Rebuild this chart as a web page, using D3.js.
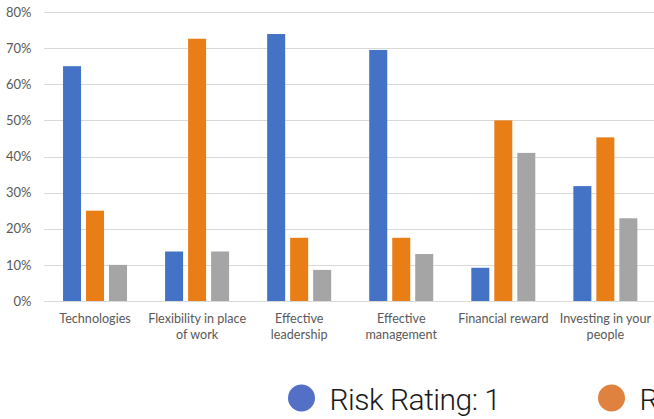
<!DOCTYPE html>
<html>
<head>
<meta charset="utf-8">
<script src="https://cdn.jsdelivr.net/npm/d3@7"></script>
<style>
  html, body { margin: 0; padding: 0; background: #fff; }
  svg { display: block; }
</style>
</head>
<body>
<svg id="chart" width="654" height="419"></svg>
<script>
const categories = ["Technologies", "Flexibility in place of work", "Effective leadership", "Effective management", "Financial reward", "Investing in your people"];
const tickLabels = [["Technologies"], ["Flexibility in place", "of work"], ["Effective", "leadership"], ["Effective", "management"], ["Financial reward"], ["Investing in your", "people"]];
const seriesNames = ["Risk Rating: 1", "Risk Rating: 2", "Risk Rating: 3"];
const rating1 = [65, 13.7, 73.9, 69.5, 9.2, 31.8];
const rating2 = [25, 72.6, 17.5, 17.5, 50, 45.3];
const rating3 = [10, 13.7, 8.6, 13, 41, 22.9];
const yTicks = [0, 10, 20, 30, 40, 50, 60, 70, 80];
const barColors = ["#4472C4", "#E97E17", "#A5A5A5"];
const legendColors = ["#5470C6", "#E0823F", "#A5A5A5"];

const seriesValues = [rating1, rating2, rating3];
const svg = d3.select("#chart");

const x = d3.scaleBand().domain(categories).range([44, 656.4]).paddingInner(0).paddingOuter(0);
const xs = d3.scaleBand().domain(seriesNames)
  .range([(x.bandwidth() - 64) / 2, (x.bandwidth() + 64) / 2])
  .paddingInner(0.217).paddingOuter(0);
const y = d3.scaleLinear().domain([0, 80]).range([301, 12]);

// gridlines
svg.append("g").selectAll("line").data(yTicks).join("line")
  .attr("x1", 44).attr("x2", 660)
  .attr("y1", d => Math.round(y(d)) + 0.5).attr("y2", d => Math.round(y(d)) + 0.5)
  .attr("stroke", "#D9D9D9").attr("stroke-width", 1);

// y axis labels
const yAxis = d3.axisLeft(y).tickValues(yTicks).tickFormat(d => d + "%").tickSize(0).tickPadding(0);
const ya = svg.append("g").attr("transform", "translate(31.5,0)").call(yAxis);
ya.select(".domain").remove();
ya.selectAll("text").attr("fill", "#595959").style("font-family", "Lato, sans-serif").style("font-size", "13px");

// bars
const groups = svg.append("g").selectAll("g").data(categories).join("g")
  .attr("transform", d => `translate(${x(d)},0)`);
groups.selectAll("rect").data((d, i) => seriesNames.map((s, j) => ({ s, j, v: seriesValues[j][i] })))
  .join("rect")
  .attr("x", d => xs(d.s)).attr("width", xs.bandwidth())
  .attr("y", d => y(d.v)).attr("height", d => y(0) - y(d.v))
  .attr("fill", d => barColors[d.j]);

// x axis labels
const xAxis = d3.axisBottom(x).tickSize(0).tickFormat("");
const xa = svg.append("g").attr("transform", "translate(0,301)").call(xAxis);
xa.select(".domain").remove();
xa.selectAll(".tick").each(function(d, i) {
  const t = d3.select(this).append("text")
    .attr("text-anchor", "middle")
    .attr("fill", "#595959")
    .style("font-family", "Lato, sans-serif")
    .style("font-size", "12.6px");
  tickLabels[i].forEach((line, k) => {
    t.append("tspan").attr("x", 0).attr("y", 22 + k * 15.5).text(line);
  });
});

// legend
const legend = svg.append("g").selectAll("g").data(seriesNames).join("g")
  .attr("transform", (d, i) => `translate(${301.5 + i * 310},398)`);
legend.append("circle").attr("r", 13.5).attr("fill", (d, i) => legendColors[i]);
legend.append("text").attr("x", 28).attr("y", 12)
  .attr("fill", "#1A1A1A")
  .style("font-family", "Roboto, sans-serif").style("font-weight", 300).style("font-size", "30px")
  .style("letter-spacing", "-0.5px")
  .text(d => d);
</script>
</body>
</html>
